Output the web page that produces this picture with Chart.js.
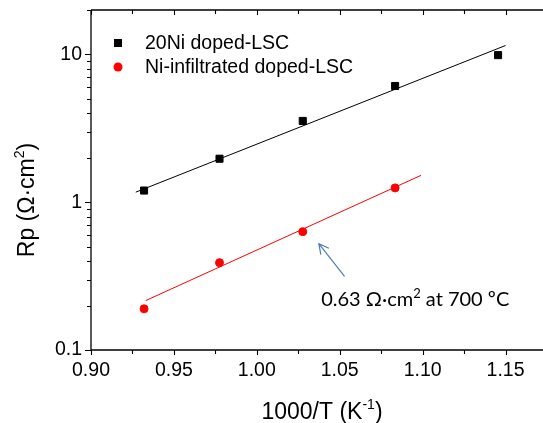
<!DOCTYPE html>
<html>
<head>
<meta charset="utf-8">
<script src="https://cdn.jsdelivr.net/npm/chart.js@4/dist/chart.umd.min.js"></script>
<style>
  html, body { margin: 0; padding: 0; background: #fff; overflow: hidden; }
  #wrap { width: 543px; height: 423px; overflow: hidden; position: relative; background: #fff; }
  canvas { display: block; }
</style>
</head>
<body>
<div id="wrap"><canvas id="c" width="553" height="423" style="width:553px;height:423px"></canvas></div>
<script>
// 1000/T (K^-1) for 800, 750, 700, 650, 600 °C
const invT20Ni = [0.932, 0.9775, 1.0277, 1.0834, 1.1455];
const rp20Ni   = [1.20, 1.97, 3.55, 6.12, 9.9];

const invTInf  = [0.932, 0.9775, 1.0277, 1.0834];
const rpInf    = [0.19, 0.39, 0.632, 1.25];

// Arrhenius fit lines (end points)
const fit20NiX = [0.927, 1.150];
const fit20NiY = [1.17, 11.5];
const fitInfX  = [0.933, 1.099];
const fitInfY  = [0.216, 1.52];

// Axis ticks
const xMajorTicks = [0.90, 0.95, 1.00, 1.05, 1.10, 1.15];
const xMinorTicks = [0.925, 0.975, 1.025, 1.075, 1.125, 1.175];
const yMajorTicks = [0.1, 1, 10];
const yTickLabels = ['0.1', '1', '10'];
const yMinorTicks = [0.2, 0.3, 0.4, 0.5, 0.6, 0.7, 0.8, 0.9, 2, 3, 4, 5, 6, 7, 8, 9, 20];

const seriesNames = ['20Ni doped-LSC', 'Ni-infiltrated doped-LSC'];

// Callout for the 700 °C point
const calloutText = { main: '0.63 \u03A9\u00B7cm', sup: '2', tail: ' at 700 \u00BAC', x: 1.0388, y: 0.2 };
const arrowTail = { x: 1.0529, y: 0.315 };
const arrowHead = { x: 1.0374, y: 0.524 };

const FONT = '"Liberation Sans", Arial, sans-serif';
const CALLOUT_FONT = 'Lato, "Open Sans", sans-serif';

const pts = (xs, ys) => xs.map((x, i) => ({ x, y: ys[i] }));

const decorations = {
  id: 'decorations',
  afterDraw(chart) {
    const { ctx, chartArea: a, scales: { x, y } } = chart;
    ctx.save();
    ctx.strokeStyle = '#000';
    ctx.lineWidth = 1.3;
    // frame: left, bottom, top (right edge lies beyond the view)
    ctx.beginPath();
    ctx.moveTo(a.left, a.top); ctx.lineTo(a.left, a.bottom);
    ctx.moveTo(a.left, a.bottom); ctx.lineTo(a.right, a.bottom);
    ctx.moveTo(a.left, a.top); ctx.lineTo(a.right, a.top);
    ctx.stroke();

    ctx.lineWidth = 1.1;
    ctx.beginPath();
    const xTick = (v, len) => {
      const px = Math.round(x.getPixelForValue(v)) + 0.5;
      ctx.moveTo(px, a.bottom); ctx.lineTo(px, a.bottom + len);
      ctx.moveTo(px, a.top); ctx.lineTo(px, a.top + len);
    };
    xMajorTicks.forEach(v => xTick(v, 5));
    xMinorTicks.forEach(v => xTick(v, 4));
    const yTick = (v, len) => {
      const py = Math.round(y.getPixelForValue(v)) + 0.5;
      ctx.moveTo(a.left, py); ctx.lineTo(a.left - len, py);
    };
    yMajorTicks.forEach(v => yTick(v, 6));
    yMinorTicks.forEach(v => yTick(v, 4));
    ctx.stroke();

    // legend
    const lx = a.left + 27, ly1 = a.top + 33, ly2 = a.top + 57;
    ctx.fillStyle = '#000';
    ctx.fillRect(lx - 4, ly1 - 4, 8, 8);
    ctx.fillStyle = '#ff0000';
    ctx.beginPath(); ctx.arc(lx, ly2, 4.5, 0, Math.PI * 2); ctx.fill();
    ctx.fillStyle = '#000';
    ctx.font = '19.5px ' + FONT;
    ctx.textBaseline = 'middle';
    ctx.textAlign = 'left';
    ctx.fillText(seriesNames[0], lx + 27, ly1 + 1);
    ctx.fillText(seriesNames[1], lx + 27, ly2 + 1);

    // axis titles
    ctx.textBaseline = 'alphabetic';
    const TS = '23px ', SS = '14px ';
    const xMain = '1000/T (K', xSup = '-1', xEnd = ')';
    ctx.font = TS + FONT; const w1 = ctx.measureText(xMain).width;
    ctx.font = SS + FONT; const w2 = ctx.measureText(xSup).width;
    ctx.font = TS + FONT; const w3 = ctx.measureText(xEnd).width;
    let tx = 322 - (w1 + w2 + w3) / 2;
    const tb = 419;
    ctx.fillText(xMain, tx, tb); tx += w1;
    ctx.font = SS + FONT; ctx.fillText(xSup, tx, tb - 10); tx += w2;
    ctx.font = TS + FONT; ctx.fillText(xEnd, tx, tb);

    ctx.save();
    ctx.translate(34, 200);
    ctx.rotate(-Math.PI / 2);
    const yMain = 'Rp (\u03A9\u00B7cm', ySup = '2', yEnd = ')';
    ctx.font = TS + FONT; const v1 = ctx.measureText(yMain).width;
    ctx.font = SS + FONT; const v2 = ctx.measureText(ySup).width;
    ctx.font = TS + FONT; const v3 = ctx.measureText(yEnd).width;
    let ty = -(v1 + v2 + v3) / 2;
    ctx.fillText(yMain, ty, 0); ty += v1;
    ctx.font = SS + FONT; ctx.fillText(ySup, ty, -10); ty += v2;
    ctx.font = TS + FONT; ctx.fillText(yEnd, ty, 0);
    ctx.restore();

    // callout arrow
    const hx = x.getPixelForValue(arrowHead.x), hy = y.getPixelForValue(arrowHead.y);
    const sx = x.getPixelForValue(arrowTail.x), sy = y.getPixelForValue(arrowTail.y);
    const ang = Math.atan2(hy - sy, hx - sx);
    ctx.strokeStyle = '#4a7ebb';
    ctx.lineWidth = 1.2;
    ctx.beginPath();
    ctx.moveTo(sx, sy); ctx.lineTo(hx, hy);
    const bl = 11, spread = Math.PI / 6.5;
    ctx.moveTo(hx - bl * Math.cos(ang - spread), hy - bl * Math.sin(ang - spread));
    ctx.lineTo(hx, hy);
    ctx.lineTo(hx - bl * Math.cos(ang + spread), hy - bl * Math.sin(ang + spread));
    ctx.stroke();

    // callout text
    ctx.fillStyle = '#000';
    let cx = x.getPixelForValue(calloutText.x);
    const cy = y.getPixelForValue(calloutText.y);
    ctx.font = '20px ' + CALLOUT_FONT;
    ctx.fillText(calloutText.main, cx, cy); cx += ctx.measureText(calloutText.main).width;
    ctx.font = '13px ' + CALLOUT_FONT;
    ctx.fillText(calloutText.sup, cx, cy - 8); cx += ctx.measureText(calloutText.sup).width;
    ctx.font = '20px ' + CALLOUT_FONT;
    ctx.fillText(calloutText.tail, cx, cy);
    ctx.restore();
  }
};

new Chart(document.getElementById('c'), {
  type: 'scatter',
  data: {
    datasets: [
      { label: 'fit 20Ni', data: pts(fit20NiX, fit20NiY), showLine: true, borderColor: '#000',
        borderWidth: 1, pointRadius: 0, fill: false },
      { label: 'fit Ni-infiltrated', data: pts(fitInfX, fitInfY), showLine: true, borderColor: '#ff0000',
        borderWidth: 1, pointRadius: 0, fill: false },
      { label: seriesNames[0], data: pts(invT20Ni, rp20Ni), pointStyle: 'rect', pointRadius: 5,
        pointBorderWidth: 1, backgroundColor: '#000', borderColor: '#000' },
      { label: seriesNames[1], data: pts(invTInf, rpInf), pointStyle: 'circle', pointRadius: 4,
        pointBorderWidth: 1, backgroundColor: '#ff0000', borderColor: '#ff0000' }
    ]
  },
  options: {
    responsive: false,
    animation: false,
    devicePixelRatio: 1,
    layout: { padding: { top: 10, right: 2, bottom: 0, left: 0 } },
    plugins: { legend: { display: false }, tooltip: { enabled: false }, title: { display: false } },
    scales: {
      x: {
        type: 'linear', min: 0.9, max: 1.175,
        afterBuildTicks: s => { s.ticks = xMajorTicks.map(v => ({ value: v })); },
        afterFit: s => { s.height = 73; s.paddingLeft = 0; s.paddingRight = 0; },
        grid: { display: false, drawTicks: false },
        border: { display: false },
        ticks: { color: '#000', font: { family: FONT, size: 19.5 }, padding: 9,
                 maxRotation: 0, autoSkip: false, callback: v => Number(v).toFixed(2) }
      },
      y: {
        type: 'logarithmic', min: 0.1, max: 20,
        afterBuildTicks: s => { s.ticks = yMajorTicks.map(v => ({ value: v })); },
        afterFit: s => { s.width = 91; s.paddingTop = 0; s.paddingBottom = 0; },
        grid: { display: false, drawTicks: false },
        border: { display: false },
        ticks: { color: '#000', font: { family: FONT, size: 19.5 }, padding: 9,
                 autoSkip: false, callback: v => yTickLabels[yMajorTicks.indexOf(v)] ?? '' }
      }
    }
  },
  plugins: [decorations]
});
</script>
</body>
</html>
